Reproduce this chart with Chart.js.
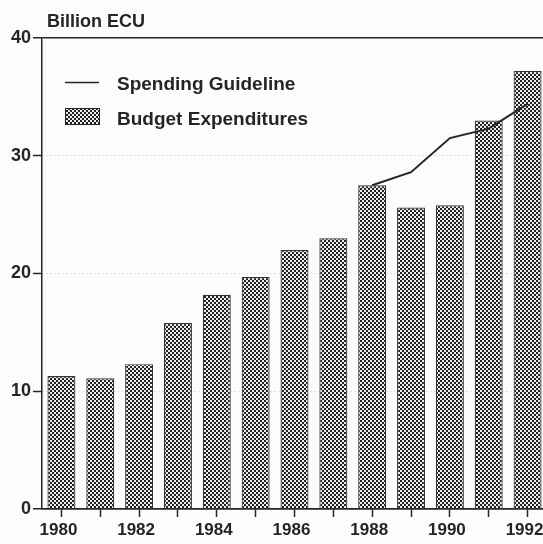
<!DOCTYPE html>
<html>
<head>
<meta charset="utf-8">
<script src="https://cdn.jsdelivr.net/npm/chart.js@4.4.1/dist/chart.umd.min.js"></script>
<style>
html,body{margin:0;padding:0;background:#fcfcfc;overflow:hidden;width:543px;height:544px;}
#wrap{position:absolute;left:0;top:0;width:560px;height:544px;}
</style>
</head>
<body>
<div id="wrap"><canvas id="c" width="560" height="544"></canvas></div>
<script>
const years = ['1980','1981','1982','1983','1984','1985','1986','1987','1988','1989','1990','1991','1992'];
const budgetExpenditures = [11.3, 11.1, 12.3, 15.8, 18.2, 19.7, 22.0, 23.0, 27.5, 25.6, 25.8, 33.0, 37.2];
const spendingGuideline = [null, null, null, null, null, null, null, null, 27.5, 28.6, 31.5, 32.3, 34.4];
const yTicks = [0, 10, 20, 30, 40];
const titleText = 'Billion ECU';
const lineLabel = 'Spending Guideline';
const barLabel = 'Budget Expenditures';

const INK = '#252525';
const FONT = '"Liberation Sans", Arial, sans-serif';

function makePattern() {
  const p = document.createElement('canvas');
  p.width = 4; p.height = 4;
  const g = p.getContext('2d');
  g.fillStyle = '#ececec';
  g.fillRect(0, 0, 4, 4);
  g.fillStyle = '#222222';
  g.fillRect(0, 0, 2, 2);
  g.fillRect(2, 2, 2, 2);
  return g.createPattern(p, 'repeat');
}
const pattern = makePattern();

const overlay = {
  id: 'overlay',
  afterDraw(chart) {
    const ctx = chart.ctx;
    ctx.save();
    ctx.fillStyle = INK;
    ctx.textBaseline = 'middle';
    ctx.textAlign = 'left';
    ctx.font = 'bold 18px ' + FONT;
    ctx.fillText(titleText, 47, 22);
    // legend
    ctx.font = 'bold 19px ' + FONT;
    ctx.strokeStyle = INK;
    ctx.lineWidth = 1.5;
    ctx.beginPath();
    ctx.moveTo(65, 82.5);
    ctx.lineTo(99, 82.5);
    ctx.stroke();
    ctx.fillText(lineLabel, 117, 85);
    ctx.fillStyle = pattern;
    ctx.fillRect(65, 108, 35, 17);
    ctx.lineWidth = 1;
    ctx.strokeRect(65.5, 108.5, 34, 16);
    ctx.fillStyle = INK;
    ctx.fillText(barLabel, 117, 120);
    ctx.restore();
  }
};

new Chart(document.getElementById('c'), {
  data: {
    labels: years,
    datasets: [
      {
        type: 'line',
        label: lineLabel,
        data: spendingGuideline,
        borderColor: INK,
        borderWidth: 2,
        pointRadius: 0,
        tension: 0,
        spanGaps: false,
        order: 0
      },
      {
        type: 'bar',
        label: barLabel,
        data: budgetExpenditures,
        backgroundColor: pattern,
        borderColor: '#333',
        borderWidth: 1.2,
        barPercentage: 0.72,
        categoryPercentage: 1,
        order: 1
      }
    ]
  },
  options: {
    responsive: false,
    animation: false,
    devicePixelRatio: 1,
    layout: { padding: { top: 38, right: 13, left: 0, bottom: 0 } },
    plugins: { legend: { display: false }, tooltip: { enabled: false }, title: { display: false } },
    scales: {
      x: {
        type: 'category',
        offset: true,
        grid: { drawOnChartArea: false, drawTicks: true, tickLength: 8, tickColor: INK, tickWidth: 1.5, offset: false },
        border: { display: true, color: INK, width: 1.5 },
        ticks: {
          autoSkip: false, maxRotation: 0, minRotation: 0, padding: 3, labelOffset: -3,
          color: INK, font: { family: FONT, weight: 'bold', size: 17 },
          callback: (v, i) => (i % 2 === 0 ? years[i] : '')
        },
        afterFit(s) { s.height = 35; }
      },
      y: {
        min: 0, max: 40,
        afterBuildTicks(s) { s.ticks = yTicks.map(v => ({ value: v })); },
        grid: {
          drawOnChartArea: true, drawTicks: true, tickLength: 9,
          color: c => (c.tick && (c.tick.value === 0 || c.tick.value === 40)) ? INK : '#c4c4c4',
          lineWidth: c => (c.tick && (c.tick.value === 0 || c.tick.value === 40)) ? 1.5 : 1,
          tickColor: INK, tickWidth: 1.5
        },
        border: { display: true, color: INK, width: 1.5, dash: c => (c.tick && c.tick.value % 40 !== 0) ? [1, 3] : [] },
        ticks: {
          padding: 2, color: INK, font: { family: FONT, weight: 'bold', size: 18 },
          callback: v => String(v)
        },
        afterFit(s) { s.width = 42; }
      }
    }
  },
  plugins: [overlay]
});
</script>
</body>
</html>
